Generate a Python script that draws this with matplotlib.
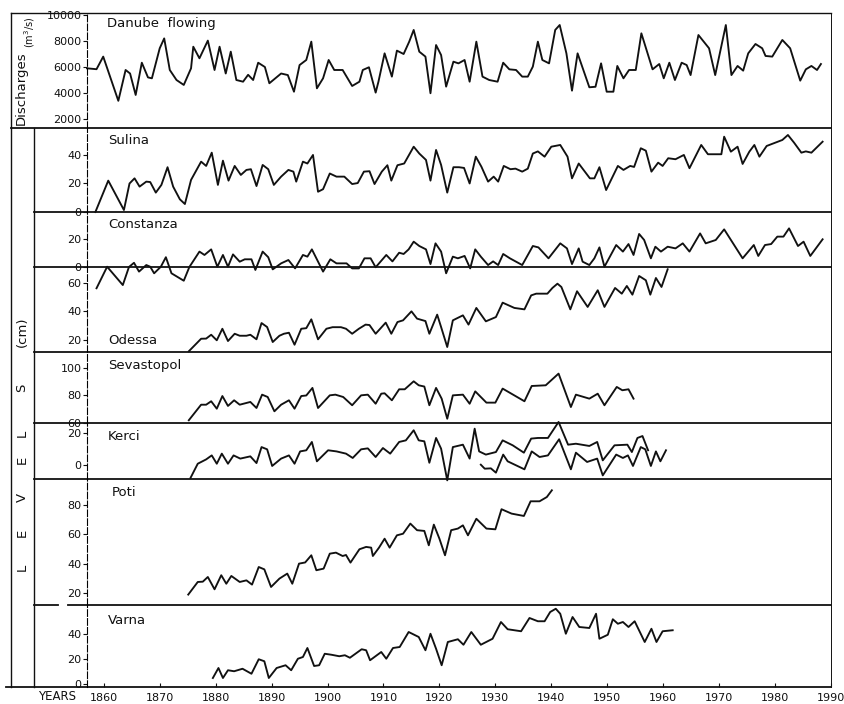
import matplotlib
matplotlib.use('Agg')
import matplotlib.pyplot as plt

# ---- data (decimal years = vertex positions) ----
danube_years = [1857.0, 1858.7, 1859.9, 1862.6, 1863.9, 1864.7, 1865.7, 1866.8, 1867.9, 1868.6,
                1870.0, 1870.8, 1871.8, 1873.0, 1874.3, 1875.6, 1876.0, 1877.1, 1878.6, 1879.8,
                1880.7, 1881.8, 1882.7, 1883.7, 1884.9, 1885.8, 1886.7, 1887.6, 1888.8, 1889.6,
                1891.7, 1892.9, 1894.0, 1895.0, 1896.2, 1897.1, 1898.1, 1899.2, 1900.2, 1901.2,
                1902.7, 1904.4, 1905.7, 1906.3, 1907.4, 1908.6, 1909.1, 1910.2, 1911.5, 1912.4,
                1913.6, 1914.6, 1915.4, 1916.4, 1917.5, 1918.4, 1919.4, 1920.3, 1921.2, 1922.5,
                1923.4, 1924.5, 1925.4, 1926.6, 1927.7, 1928.9, 1930.4, 1931.4, 1932.5, 1933.7,
                1934.8, 1935.8, 1936.7, 1937.6, 1938.4, 1939.6, 1940.7, 1941.5, 1942.7, 1943.7,
                1944.7, 1946.8, 1947.9, 1948.9, 1949.9, 1951.1, 1951.8, 1952.9, 1953.9, 1955.1,
                1956.1, 1958.1, 1959.3, 1960.1, 1961.1, 1962.1, 1963.3, 1964.2, 1964.9, 1966.3,
                1968.2, 1969.3, 1971.2, 1972.2, 1973.3, 1974.3, 1975.2, 1976.5, 1977.7, 1978.3,
                1979.5, 1981.3, 1982.7, 1984.5, 1985.5, 1986.5, 1987.5, 1988.2]
danube_q = [5900, 5830, 6800, 3400, 5770, 5500, 3850, 6330, 5200, 5130,
            7440, 8200, 5770, 5000, 4620, 5900, 7560, 6670, 8030, 5770,
            7560, 5500, 7180, 5000, 4870, 5400, 5000, 6330, 6000, 4750,
            5500, 5380, 4100, 6150, 6540, 7950, 4360, 5130, 6540, 5770,
            5770, 4540, 4870, 5770, 5980, 4030, 4870, 7050, 5260, 7260,
            7000, 7950, 8850, 7180, 6800, 3980, 7690, 6920, 4490, 6410,
            6280, 6540, 4870, 7950, 5260, 5000, 4870, 6330, 5820, 5770,
            5260, 5260, 6030, 7950, 6540, 6280, 8850, 9230, 7050, 4180,
            7050, 4440, 4480, 6280, 4100, 4100, 6080, 5130, 5770, 5770,
            8590, 5820, 6230, 5130, 6330, 5000, 6330, 6150, 5380, 8460,
            7440, 5380, 9230, 5380, 6080, 5720, 7050, 7770, 7440, 6850,
            6800, 8080, 7440, 4950, 5820, 6080, 5770, 6230]

sulina_years = [1858.5, 1860.8, 1863.6, 1864.6, 1865.5, 1866.4, 1867.6, 1868.3, 1869.3, 1870.3,
                1871.4, 1872.4, 1873.6, 1874.5, 1875.6, 1877.4, 1878.3, 1879.3, 1880.4, 1881.3,
                1882.3, 1883.4, 1884.5, 1885.5, 1886.3, 1887.3, 1888.4, 1889.4, 1890.4, 1891.7,
                1893.0, 1893.9, 1894.4, 1895.6, 1896.4, 1897.4, 1898.3, 1899.2, 1900.4, 1901.6,
                1903.0, 1904.4, 1905.4, 1906.5, 1907.5, 1908.4, 1909.7, 1910.7, 1911.4, 1912.5,
                1913.7, 1915.4, 1916.4, 1917.6, 1918.4, 1919.4, 1920.3, 1921.4, 1922.5, 1923.5,
                1924.4, 1925.4, 1926.5, 1927.5, 1928.7, 1929.7, 1930.5, 1931.5, 1932.7, 1933.6,
                1934.8, 1935.8, 1936.7, 1937.6, 1938.8, 1940.0, 1941.6, 1942.9, 1943.7, 1944.9,
                1946.9, 1947.7, 1948.6, 1949.8, 1951.9, 1952.9, 1954.1, 1954.8, 1956.0, 1956.9,
                1957.9, 1959.1, 1959.9, 1960.9, 1962.2, 1963.7, 1964.7, 1966.8, 1968.0, 1970.4,
                1970.9, 1972.1, 1973.3, 1974.2, 1975.4, 1976.3, 1977.2, 1978.5, 1981.3, 1982.3,
                1983.4, 1984.7, 1985.5, 1986.5, 1988.5]
sulina_lvl = [0, 22, 1.4, 20, 23.6, 17.8, 21.3, 21, 13.6, 19,
              31.4, 17.8, 8.9, 5.6, 22.5, 35.3, 32.3, 41.6, 19, 36,
              22, 32.3, 26, 29.5, 30, 18.2, 33, 30, 19, 24.8,
              29.5, 28.3, 21.3, 35.3, 34, 40, 14.2, 16, 27, 24.8,
              24.8, 19.6, 20.3, 28.3, 28.6, 19.6, 28.3, 32.8, 22, 32.8,
              34, 45.8, 41, 36.5, 22, 43.5, 33, 13.6, 31.4, 31.4,
              30.9, 20, 38.8, 31.8, 21.3, 24.8, 21.3, 32.3, 30, 30.4,
              28.3, 30.4, 41, 42.5, 38.8, 45.8, 47, 38.8, 23.6, 34,
              23.6, 23.6, 31.4, 15.4, 32.3, 29.5, 32.3, 31.6, 44.7, 43,
              28.3, 34.6, 32.3, 37.7, 37, 40, 30.7, 47, 40.5, 40.5,
              52.8, 42.3, 45.8, 33.7, 42.3, 47, 38.8, 46.3, 50.5, 54,
              48.6, 41.6, 42.5, 41.6, 49.3]

constanza_years = [1858.7, 1860.6, 1863.4, 1864.5, 1865.4, 1866.3, 1867.6, 1868.3, 1869.0, 1870.2,
                   1871.1, 1872.1, 1874.3, 1875.3, 1877.1, 1878.0, 1879.2, 1880.3, 1881.3, 1882.2,
                   1883.1, 1884.3, 1885.2, 1886.4, 1887.1, 1888.4, 1889.4, 1890.2, 1891.7, 1893.0,
                   1894.2, 1895.6, 1896.4, 1897.2, 1899.2, 1900.5, 1901.6, 1903.4, 1904.4, 1905.6,
                   1906.6, 1907.7, 1908.6, 1910.5, 1911.6, 1912.8, 1913.6, 1914.5, 1915.4, 1916.4,
                   1917.6, 1918.4, 1919.3, 1920.3, 1921.2, 1922.4, 1923.3, 1924.5, 1925.5, 1926.4,
                   1927.4, 1928.7, 1929.6, 1930.5, 1931.4, 1932.6, 1934.8, 1936.7, 1937.7, 1939.5,
                   1941.6, 1942.8, 1943.7, 1944.9, 1945.6, 1946.8, 1947.7, 1948.6, 1949.5, 1951.6,
                   1952.8, 1953.8, 1954.7, 1955.7, 1956.6, 1957.8, 1958.6, 1959.6, 1960.8, 1962.2,
                   1963.5, 1964.7, 1966.6, 1967.6, 1969.4, 1970.9, 1974.2, 1976.2, 1977.0, 1978.2,
                   1979.3, 1980.4, 1981.5, 1982.5, 1984.1, 1985.1, 1986.3, 1988.5]
constanza_lvl = [-15.2, 0.2, -12.9, 0, 3, -3.3, 1.4, 0.2, -4.5, 0.2,
                 7, -4.5, -9.8, 0, 11, 8.6, 12.6, 0.2, 8.6, 0.2,
                 9, 3.8, 5.5, 5.5, -2.1, 11, 7, -1.7, 2.6, 5,
                 -1, 8.6, 7.4, 12.6, -3.3, 5.5, 2.6, 2.6, -1, -1,
                 6.2, 6.2, -0.2, 8.6, 4, 10.2, 9.3, 12.6, 18.1, 15,
                 12.6, 2.1, 16.9, 11, -4.5, 7.4, 6.2, 7.9, -1, 12.6,
                 7.4, 1.4, 4, 1.4, 9.3, 6.2, 1.4, 15, 14, 6.2,
                 16.9, 13.3, 2.1, 13.3, 3.8, 1.4, 6.2, 14, 0.2, 15.7,
                 11, 16.4, 8.6, 23.6, 19.3, 6.2, 14.5, 11, 14.5, 13.3,
                 16.9, 11, 24, 16.9, 19.3, 26.9, 6.2, 15.7, 7.9, 15.7,
                 16.4, 21.7, 21.7, 27.6, 15, 18.1, 7.9, 19.8]

odessa_years = [1875.2, 1877.4, 1878.3, 1879.2, 1880.2, 1881.2, 1882.2, 1883.4, 1884.3, 1885.5,
                1886.2, 1887.3, 1888.2, 1889.2, 1890.2, 1891.4, 1892.2, 1893.1, 1894.1, 1895.3,
                1896.2, 1897.1, 1898.3, 1899.8, 1900.9, 1902.4, 1903.3, 1904.4, 1905.6, 1906.8,
                1907.5, 1908.6, 1910.4, 1911.4, 1912.5, 1913.5, 1915.0, 1916.0, 1917.5, 1918.2,
                1919.6, 1920.3, 1921.4, 1922.4, 1924.2, 1925.2, 1926.6, 1928.3, 1930.1, 1931.3,
                1933.4, 1935.2, 1936.4, 1937.3, 1939.3, 1940.2, 1941.1, 1941.8, 1943.4, 1944.6,
                1946.5, 1948.3, 1949.5, 1951.4, 1952.6, 1953.5, 1954.5, 1955.7, 1956.9, 1957.7,
                1958.7, 1959.7, 1960.8]
odessa_lvl = [12.1, 20.9, 21, 23.7, 19.8, 27.9, 19.3, 24.4, 23, 23,
              23.7, 20.5, 31.9, 29.1, 18.6, 23, 24.4, 25.1, 16.7, 27.9,
              28.3, 34.5, 20.5, 27.9, 29, 29, 27.9, 24.4, 27.9, 30.8,
              30.5, 24.4, 32.2, 24.4, 32.6, 33.8, 40.1, 35, 33.3, 24.4,
              37.8, 29.1, 15.1, 33.8, 37.3, 30.8, 42.5, 33.1, 36.1, 46.2,
              42.5, 41.5, 51.3, 52.5, 52.5, 56.5, 59.5, 57.2, 41.5, 54.2,
              43.2, 54.9, 43.2, 56.5, 52.5, 57.9, 51.8, 64.9, 61.9, 51.8,
              63.5, 57.2, 69.6]

sevastopol_years = [1875.2, 1877.4, 1878.3, 1879.2, 1880.2, 1881.2, 1882.2, 1883.3, 1884.3, 1886.2,
                    1887.3, 1888.3, 1889.3, 1890.5, 1891.7, 1893.1, 1894.1, 1895.3, 1896.2, 1897.3,
                    1898.3, 1900.4, 1901.4, 1902.8, 1904.4, 1906.0, 1907.2, 1908.6, 1909.6, 1910.2,
                    1911.5, 1912.8, 1913.8, 1915.4, 1916.3, 1917.3, 1918.2, 1919.4, 1920.4, 1921.4,
                    1922.4, 1924.2, 1925.4, 1926.4, 1928.4, 1930.0, 1931.3, 1935.2, 1936.5, 1939.0,
                    1941.3, 1943.5, 1944.4, 1946.8, 1948.3, 1949.5, 1951.7, 1952.7, 1953.8, 1954.7]
sevastopol_lvl = [62, 73.3, 73.3, 75.8, 70.4, 79.6, 72.4, 76.5, 73.3, 75.3,
                  70.9, 80.6, 78.9, 68.5, 73.3, 76.5, 70.4, 79.6, 80, 85.5,
                  70.9, 80.1, 80.6, 78.9, 72.9, 80.1, 80.6, 74, 81.3, 81.6,
                  76.5, 84.5, 84.5, 90.3, 87.4, 86.5, 72.9, 85.5, 77.7, 63.1,
                  80.1, 80.6, 74, 83, 74.8, 74.8, 85, 75.8, 86.9, 87.4,
                  95.9, 71.6, 80.6, 77.7, 81.3, 72.9, 86.2, 83.8, 84.5, 77.7]

kerch_years = [1875.5, 1876.8, 1878.3, 1879.3, 1880.2, 1881.1, 1882.2, 1883.2, 1884.4, 1886.2,
               1887.3, 1888.2, 1889.2, 1890.1, 1891.7, 1893.1, 1894.1, 1895.1, 1896.2, 1897.2,
               1898.1, 1900.1, 1901.6, 1903.3, 1904.5, 1906.0, 1907.2, 1908.6, 1909.9, 1911.2,
               1912.8, 1914.0, 1915.4, 1916.3, 1917.3, 1918.2, 1919.4, 1920.3, 1921.4, 1922.4,
               1924.2, 1925.4, 1926.3, 1927.1, 1928.3, 1930.1, 1931.3, 1933.1, 1935.1, 1936.4,
               1937.6, 1939.4, 1941.3, 1943.0, 1944.4, 1946.8, 1948.2, 1949.2, 1951.3, 1953.6,
               1954.4, 1955.4, 1956.3, 1957.3]
kerch_lvl = [-8.1, 0.8, 3.5, 6, 0.8, 7.1, 0.8, 6, 4, 5.4,
             1.2, 11.2, 9.8, -0.6, 4, 6, 0.8, 8.5, 9.2, 14.4,
             2.3, 9.2, 8.5, 7.1, 4.4, 9.8, 10.4, 5, 10.6, 7.1,
             14.4, 15.4, 21.7, 15.4, 14.8, 1.4, 16.9, 10.2, -9.6, 11.2,
             12.7, 4, 22.7, 8.5, 6.5, 8.1, 15.4, 12.3, 7.7, 16.5,
             16.9, 16.9, 26.9, 12.7, 13.3, 11.9, 14.4, 2.9, 12.3, 12.7,
             8.1, 16.9, 18.1, 9.2]
kerch2_years = [1927.4, 1928.1, 1929.2, 1930.1, 1931.4, 1932.2, 1935.2, 1936.5, 1937.9, 1939.4,
                1941.4, 1943.5, 1944.4, 1946.4, 1948.2, 1949.2, 1951.6, 1952.8, 1953.7, 1954.6,
                1956.0, 1956.8, 1957.8, 1958.7, 1959.5, 1960.5]
kerch2_lvl = [0.2, -2.3, -2.1, -4.8, 6.5, 2.3, -2.7, 8.5, 5, 6,
              16.1, -2.7, 7.7, 1.9, 4, -6.5, 6.5, 4.4, 6, -0.6,
              11.2, 9.8, -0.6, 8.5, 2.3, 9.2]

poti_years = [1875.1, 1876.8, 1877.7, 1878.6, 1879.8, 1881.0, 1881.9, 1882.8, 1884.3, 1885.5,
              1886.5, 1887.7, 1888.7, 1889.9, 1891.4, 1892.8, 1893.7, 1894.9, 1896.0, 1897.1,
              1898.0, 1899.3, 1900.4, 1901.5, 1902.7, 1903.3, 1904.1, 1905.7, 1906.9, 1907.8,
              1908.1, 1909.2, 1910.2, 1911.1, 1912.4, 1913.5, 1914.8, 1916.0, 1917.3, 1918.1,
              1919.0, 1920.0, 1921.0, 1922.1, 1923.3, 1924.2, 1925.1, 1926.6, 1928.4, 1930.0,
              1931.1, 1932.9, 1935.1, 1936.3, 1937.9, 1939.2, 1940.1]
poti_lvl = [18.9, 27.5, 27.7, 30.9, 22.5, 32.1, 26.3, 31.6, 27.5, 28.6,
            25.7, 37.7, 36.1, 24.1, 29.8, 33.2, 26.3, 40, 40.8, 45.7,
            35.5, 36.6, 46.8, 47.5, 45.2, 45.9, 40.7, 49.8, 51.4, 50.9,
            45.2, 50.9, 57, 50.9, 59.3, 60.4, 67.3, 62.8, 62.3, 52.5,
            66.6, 57, 45.7, 62.8, 63.9, 66.1, 59.3, 70.6, 63.9, 63.4,
            77.1, 74.1, 72.5, 82.5, 82.5, 85.4, 90]

varna_years = [1879.5, 1880.5, 1881.3, 1882.2, 1883.3, 1884.8, 1886.4, 1887.7, 1888.7, 1889.5,
               1890.9, 1892.5, 1893.5, 1894.7, 1895.6, 1896.4, 1897.6, 1898.5, 1899.5, 1900.7,
               1902.1, 1903.1, 1904.0, 1906.1, 1906.9, 1907.6, 1909.6, 1910.5, 1911.7, 1912.9,
               1914.5, 1916.3, 1917.5, 1918.4, 1919.4, 1920.4, 1921.5, 1923.3, 1924.3, 1925.7,
               1927.4, 1929.5, 1931.0, 1932.2, 1934.6, 1936.1, 1937.6, 1938.8, 1939.8, 1940.8,
               1941.6, 1942.6, 1943.8, 1945.0, 1946.8, 1948.0, 1948.6, 1950.1, 1951.0, 1951.9,
               1952.8, 1953.8, 1954.9, 1956.7, 1957.9, 1958.8, 1959.9, 1961.7]
varna_lvl = [4.8, 12.8, 4.8, 11, 10.2, 12.2, 8.2, 19.8, 18.2, 4.8,
             12.8, 15, 11, 20.2, 21.6, 28.8, 14.4, 15, 24.2, 23.4,
             22.2, 23, 21, 27.8, 27, 19, 25.6, 20.2, 28.8, 29.6,
             41.6, 37.6, 27, 40.2, 28.2, 15, 33.6, 35.8, 31.4, 41.6,
             31.4, 36.2, 49.6, 43.8, 42.2, 52.8, 50.2, 50.2, 57.6, 60.2,
             56.2, 40.2, 53.6, 45.6, 44.8, 56.2, 36.2, 39.4, 51.8, 48.2,
             49.6, 45.6, 50.2, 33.6, 44.2, 33.6, 42.2, 43]

year_ticks = list(range(1860, 1991, 10))

# ---- layout (pixel geometry of the scanned page) ----
W, H = 845, 704
LEFT, RIGHT = 87, 831
INK = '#111111'

fig = plt.figure(figsize=(W / 100, H / 100), dpi=100)
fig.patch.set_facecolor('white')

# frame / divider lines + labels in page pixels
ov = fig.add_axes([0, 0, 1, 1], zorder=0)
ov.set_xlim(0, W); ov.set_ylim(H, 0); ov.axis('off')
ov.plot([11, 11], [13, 687], color=INK, lw=1.0)
ov.plot([34, 34], [128, 687], color=INK, lw=1.0)
ov.plot([RIGHT, RIGHT], [13, 687], color=INK, lw=0.7)
ov.plot([11, RIGHT], [13, 13], color=INK, lw=1.0)
ov.plot([11, RIGHT], [128, 128], color=INK, lw=1.3)
for yy in (212, 267, 352, 423, 479):
    ov.plot([34, RIGHT], [yy, yy], color=INK, lw=1.3)
ov.plot([34, 58], [605, 605], color=INK, lw=1.3)
ov.plot([68, RIGHT], [605, 605], color=INK, lw=1.3)
ov.plot([6, RIGHT], [687, 687], color=INK, lw=1.3)

ov.text(21, 88, 'Discharges', rotation=90, ha='center', va='center', fontsize=9.5, color=INK)
ov.text(30, 32, '(m$^3$/s)', rotation=90, ha='center', va='center', fontsize=7, color=INK)
for ch, yy in zip('LEVELS', (567, 533, 497, 460, 433, 388)):
    ov.text(22, yy, ch, rotation=90, ha='center', va='center', fontsize=9.5, color=INK)
ov.text(22, 332, '(cm)', rotation=90, ha='center', va='center', fontsize=9.5, color=INK)
ov.text(57, 697, 'YEARS', ha='center', va='center', fontsize=8.5, color=INK)

names = [('Danube  flowing', 107, 24), ('Sulina', 108, 140), ('Constanza', 108, 225),
         ('Odessa', 108, 341), ('Sevastopol', 108, 366), ('Kerci', 108, 437),
         ('Poti', 112, 493), ('Varna', 108, 620)]
for txt, xx, yy in names:
    ov.text(xx, yy, txt, ha='left', va='center', fontsize=9.5, color=INK)


def panel(top, bottom, ylim, ticks):
    ax = fig.add_axes([LEFT / W, 1 - bottom / H, (RIGHT - LEFT) / W, (bottom - top) / H], zorder=2)
    ax.patch.set_alpha(0)
    ax.set_xlim(1857, 1990)
    ax.set_ylim(*ylim)
    for s in ('top', 'right', 'bottom'):
        ax.spines[s].set_visible(False)
    ax.spines['left'].set_linestyle((0, (6, 2)))
    ax.spines['left'].set_linewidth(0.8)
    ax.set_yticks(ticks)
    ax.set_yticklabels([str(t) for t in ticks])
    ax.tick_params(axis='y', direction='out', length=3, width=0.8, pad=1, labelsize=8, colors=INK)
    ax.tick_params(axis='x', bottom=False, labelbottom=False)
    return ax


def trace(ax, xs, ys):
    ax.plot(xs, ys, color=INK, lw=1.35, clip_on=False)


ax = panel(13, 128, (1308, 10154), [2000, 4000, 6000, 8000, 10000])
trace(ax, danube_years, danube_q)

ax = panel(128, 212, (0, 58.9), [0, 20, 40])
trace(ax, sulina_years, sulina_lvl)

ax = panel(212, 267, (0, 39.3), [0, 20])
trace(ax, constanza_years, constanza_lvl)

ax = panel(267, 352, (11.6, 71.2), [20, 40, 60])
trace(ax, odessa_years, odessa_lvl)

ax = panel(352, 423, (60, 111.6), [60, 80, 100])
trace(ax, sevastopol_years, sevastopol_lvl)

ax = panel(423, 479, (-8.75, 26.25), [0, 20])
trace(ax, kerch_years, kerch_lvl)
trace(ax, kerch2_years, kerch2_lvl)

ax = panel(479, 605, (11.8, 97.7), [20, 40, 60, 80])
trace(ax, poti_years, poti_lvl)

ax = panel(605, 687, (-2.4, 63.2), [0, 20, 40])
trace(ax, varna_years, varna_lvl)
ax.set_xticks(year_ticks)
ax.tick_params(axis='x', bottom=True, labelbottom=True, direction='in', length=3,
               width=0.8, pad=4, labelsize=8, colors=INK)

fig.savefig('out.png', dpi=100, facecolor='white')
